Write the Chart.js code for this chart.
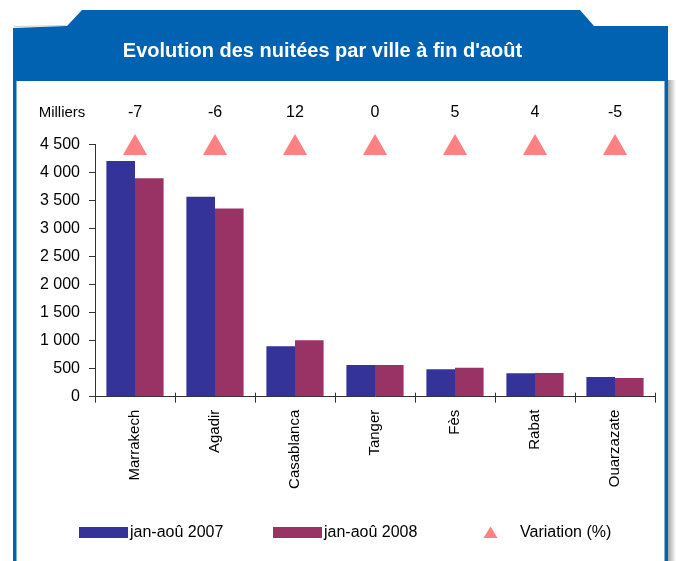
<!DOCTYPE html>
<html>
<head>
<meta charset="utf-8">
<script src="https://cdn.jsdelivr.net/npm/chart.js@4/dist/chart.umd.min.js"></script>
<style>
  html, body { margin: 0; padding: 0; background: #fff; }
  #nuitees { display: block; }
</style>
</head>
<body>
<canvas id="nuitees" width="676" height="561"></canvas>
<script>
// villes et nuitées (en milliers)
var cities = ["Marrakech", "Agadir", "Casablanca", "Tanger", "Fès", "Rabat", "Ouarzazate"];
var nuitees2007 = [4210, 3570, 900, 565, 490, 420, 350];
var nuitees2008 = [3900, 3360, 1010, 565, 515, 425, 335];
var variation = [-7, -6, 12, 0, 5, 4, -5];
// hauteur des triangles de variation (sur l'axe des milliers)
var markerLevel = [4440, 4440, 4440, 4440, 4440, 4440, 4440];
var yMax = 4500, yStep = 500;

var seriesNames = ["jan-aoû 2007", "jan-aoû 2008", "Variation (%)"];
var blue = "#333399", plum = "#993366", salmon = "#FF8080", frameBlue = "#0062B0";

function fmt(v){
	return String(v).replace(/\B(?=(\d{3})+(?!\d))/g, " ");
}

// cadre bleu + bandeau de titre
var framePlugin = {
	id: "frame",
	beforeDraw: function(chart){
		var ctx = chart.ctx;
		ctx.save();
		ctx.fillStyle = "#fff";
		ctx.fillRect(0, 0, chart.width, chart.height);
		// ombre à droite
		var g = ctx.createLinearGradient(667, 0, 676, 0);
		g.addColorStop(0, "#9a9a9a");
		g.addColorStop(1, "#ffffff");
		ctx.fillStyle = g;
		ctx.fillRect(667, 80, 9, chart.height - 80);
		ctx.strokeStyle = "#cfcfcf";
		ctx.lineWidth = 1;
		ctx.beginPath();
		ctx.moveTo(14, 26.5);
		ctx.lineTo(66, 25.5);
		ctx.stroke();
		ctx.fillStyle = frameBlue;
		ctx.beginPath();
		ctx.moveTo(13, 28);
		ctx.lineTo(67, 26);
		ctx.lineTo(82, 10);
		ctx.lineTo(580, 10);
		ctx.lineTo(594, 26);
		ctx.lineTo(668, 26);
		ctx.lineTo(668, chart.height);
		ctx.lineTo(13, chart.height);
		ctx.closePath();
		ctx.fill();
		ctx.fillStyle = "#fff";
		ctx.fillRect(16.5, 81, 648, chart.height - 81);
		ctx.restore();
	}
};

// "Milliers", valeurs de variation, petits traits au-dessus de l'axe, légende
var extrasPlugin = {
	id: "extras",
	afterDatasetsDraw: function(chart){
		var ctx = chart.ctx;
		var area = chart.chartArea;
		var xs = chart.scales.x;
		ctx.save();
		ctx.strokeStyle = "#333";
		ctx.lineWidth = 1;
		var n = cities.length;
		for(var i=0;i<=n;i++){
			var x = Math.round(xs.left + i*(xs.right - xs.left)/n) + 0.5;
			ctx.beginPath();
			ctx.moveTo(x, area.bottom - 4);
			ctx.lineTo(x, area.bottom);
			ctx.stroke();
		}
		ctx.fillStyle = "#000";
		ctx.textBaseline = "middle";
		ctx.textAlign = "center";
		ctx.font = "15px Arial, 'Liberation Sans', sans-serif";
		ctx.fillText("Milliers", 62, 113);
		ctx.font = "16px Arial, 'Liberation Sans', sans-serif";
		var meta = chart.getDatasetMeta(2);
		for(var j=0;j<meta.data.length;j++){
			ctx.fillText(String(variation[j]), meta.data[j].x, 113);
		}

		// légende
		var ly = 532.5;
		ctx.textAlign = "left";
		ctx.fillStyle = blue;
		ctx.fillRect(79, 527, 49, 11);
		ctx.fillStyle = plum;
		ctx.fillRect(273, 527, 49, 11);
		ctx.fillStyle = salmon;
		ctx.beginPath();
		ctx.moveTo(490.5, 526.5);
		ctx.lineTo(497.5, 538);
		ctx.lineTo(483.5, 538);
		ctx.closePath();
		ctx.fill();
		ctx.fillStyle = "#000";
		ctx.fillText(seriesNames[0], 130, ly);
		ctx.fillText(seriesNames[1], 324, ly);
		ctx.fillText(seriesNames[2], 520, ly);
		ctx.restore();
	}
};

var ctx = document.getElementById("nuitees");
var myChart = new Chart(ctx, {
	type: "bar",
	data: {
		labels: cities,
		datasets: [
			{
				label: seriesNames[0],
				data: nuitees2007,
				backgroundColor: blue,
				categoryPercentage: 0.715,
				barPercentage: 1.0,
				order: 2
			},
			{
				label: seriesNames[1],
				data: nuitees2008,
				backgroundColor: plum,
				categoryPercentage: 0.715,
				barPercentage: 1.0,
				order: 2
			},
			{
				type: "line",
				label: seriesNames[2],
				data: markerLevel,
				showLine: false,
				pointStyle: "triangle",
				pointRadius: 14,
				pointHoverRadius: 14,
				pointBorderWidth: 0,
				backgroundColor: salmon,
				borderColor: salmon,
				clip: false,
				order: 1
			}
		]
	},
	options: {
		responsive: false,
		animation: false,
		devicePixelRatio: 1,
		layout: {
			padding: { left: -10, right: 21, top: 0, bottom: 0 }
		},
		plugins: {
			legend: { display: false },
			tooltip: { enabled: false },
			title: {
				display: true,
				text: "Evolution des nuitées par ville à fin d'août",
				color: "#fff",
				font: { family: "Arial, 'Liberation Sans', sans-serif", size: 20, weight: "bold" },
				padding: { top: 39.5, bottom: 81.2 }
			}
		},
		scales: {
			x: {
				offset: true,
				grid: { offset: true, drawOnChartArea: false, drawTicks: true, tickLength: 6, color: "#333" },
				border: { display: true, color: "#333" },
				ticks: {
					minRotation: 90,
					maxRotation: 90,
					autoSkip: false,
					padding: 7,
					color: "#000",
					font: { family: "Arial, 'Liberation Sans', sans-serif", size: 15 }
				},
				afterFit: function(scale){ scale.height = 164.3; }
			},
			y: {
				min: 0,
				max: yMax,
				grid: { drawOnChartArea: false, drawTicks: true, tickLength: 6, color: "#333" },
				border: { display: true, color: "#333" },
				ticks: {
					stepSize: yStep,
					padding: 9,
					color: "#000",
					font: { family: "Arial, 'Liberation Sans', sans-serif", size: 16 },
					callback: function(v){ return fmt(v); }
				},
				afterFit: function(scale){ scale.width = 105; }
			}
		}
	},
	plugins: [framePlugin, extrasPlugin]
});
</script>
</body>
</html>
